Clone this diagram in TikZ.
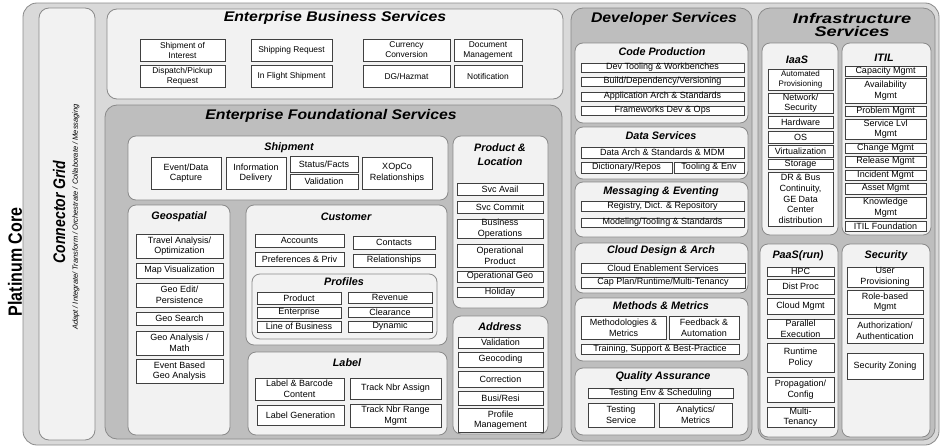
\documentclass[tikz,border=0pt]{standalone}
\usepackage{fontspec}
\setmainfont{Liberation Sans}
\definecolor{outerg}{HTML}{D9D9D9}
\definecolor{lightg}{HTML}{F2F2F2}
\definecolor{midg}{HTML}{BEBEBE}
\definecolor{edgeg}{HTML}{8A8A8A}
\definecolor{leafedge}{HTML}{404040}
\tikzset{
  leaf/.style={draw=leafedge, fill=white, line width=0.6pt, inner sep=0pt, align=center, font=\fontsize{9}{10.6}\selectfont},
  ebsleaf/.style={font=\fontsize{8.4}{10}\selectfont},
  smallleaf/.style={font=\fontsize{8}{10}\selectfont},
  cont/.style={draw=edgeg, line width=0.8pt, rounded corners=8pt, inner sep=0pt},
  bigtitle/.style={font=\fontsize{14}{12.5}\selectfont\bfseries\itshape, xscale=1.13, inner sep=0pt, align=center},
  secttitle/.style={font=\fontsize{10.8}{14}\selectfont\bfseries\itshape, inner sep=0pt, align=center},
}
\newcommand\lf[7][]{\node[leaf,minimum width={#5-#3},minimum height={#6-#4},#1] (#2) at ({(#3+#5)/2},{(#4+#6)/2}) {#7};}
\newcommand\ct[7][]{\node[cont,minimum width={#5-#3},minimum height={#6-#4},#1] (#2) at ({(#3+#5)/2},{(#4+#6)/2}) {#7};}
\begin{document}
\begin{tikzpicture}[x=1pt,y=-1pt]
\useasboundingbox (0,0) rectangle (940,447);
% outer platinum core
\ct[fill=outerg,rounded corners=14pt]{core}{23}{3}{939}{445}{}
\node[font=\fontsize{16}{16}\selectfont\bfseries, inner sep=0pt, xscale=1.2, rotate=90] (pcT) at (15,262) {Platinum Core};
% connector grid
\ct[fill=lightg,rounded corners=10pt]{cg}{39}{8}{95}{440}{}
\node[font=\fontsize{14}{14}\selectfont\bfseries\itshape, inner sep=0pt, xscale=1.2, rotate=90] (cgT) at (59,212) {Connector Grid};
\node[font=\fontsize{7.5}{7.5}\selectfont\itshape, inner sep=0pt, rotate=90] (cgS) at (76,217) {Adapt / Integrate/ Transform / Orchestrate / Collaborate / Messaging};
% enterprise business services
\ct[fill=lightg,rounded corners=10pt]{ebs}{107}{9}{563}{99}{}
\node[bigtitle] (ebsT) at (335,18) {Enterprise Business Services};
\lf[ebsleaf]{soi}{140}{39}{225}{61}{Shipment of\\Interest}
\lf[ebsleaf]{dpr}{140}{65}{225}{87}{Dispatch/Pickup\\Request}
\lf[ebsleaf]{shr}{251}{39}{332}{61}{Shipping Request}
\lf[ebsleaf]{ifs}{251}{65}{332}{87}{In Flight Shipment}
\lf[ebsleaf]{cur}{363}{39}{450}{61}{Currency\\Conversion}
\lf[ebsleaf]{dgh}{363}{65}{450}{87}{DG/Hazmat}
\lf[ebsleaf]{dmg}{454}{39}{522}{61}{Document\\Management}
\lf[ebsleaf]{ntf}{454}{65}{522}{87}{Notification}
% enterprise foundational services
\ct[fill=midg,rounded corners=12pt]{efs}{105}{105}{562}{439}{}
\node[bigtitle] (efsT) at (331,116) {Enterprise Foundational Services};
% shipment
\ct[fill=lightg]{shp}{128}{136}{448}{200}{}
\node[secttitle] (shpT) at (289,148) {Shipment};
\lf{edc}{151}{157}{221}{189}{Event/Data\\Capture}
\lf{idl}{226}{157}{286}{189}{Information\\Delivery}
\lf{stf}{290}{156}{358}{172}{Status/Facts}
\lf{svl}{290}{174}{358}{189}{Validation}
\lf{xop}{362}{157}{432}{189}{XOpCo\\Relationships}
% product & location
\ct[fill=lightg]{pl}{453}{136}{548}{308}{}
\node[secttitle] (plT) at (500,155) {Product \&\\Location};
\lf{sva}{457}{183}{543}{195}{Svc Avail}
\lf{svc}{457}{201}{543}{213}{Svc Commit}
\lf{bop}{457}{219}{543}{238}{Business\\Operations}
\lf{opp}{457}{244}{543}{267}{Operational\\Product}
\lf{opg}{457}{271}{543}{282}{Operational Geo}
\lf{hol}{457}{287}{543}{297}{Holiday}
% address
\ct[fill=lightg]{adr}{453}{316}{548}{434}{}
\node[secttitle] (adrT) at (500,327) {Address};
\lf{avl}{458}{337}{543}{348}{Validation}
\lf{gcd}{458}{352}{543}{367}{Geocoding}
\lf{cor}{458}{371}{543}{387}{Correction}
\lf{bsr}{458}{391}{543}{405}{Busi/Resi}
\lf{prm}{458}{408}{543}{432}{Profile\\Management}
% geospatial
\ct[fill=lightg]{geo}{128}{205}{230}{435}{}
\node[secttitle] (geoT) at (179,217) {Geospatial};
\lf{tao}{136}{234}{223}{258}{Travel Analysis/\\Optimization}
\lf{mpv}{136}{263}{223}{278}{Map Visualization}
\lf{ged}{136}{283}{223}{307}{Geo Edit/\\Persistence}
\lf{gse}{136}{312}{223}{325}{Geo Search}
\lf{gan}{136}{331}{223}{355}{Geo Analysis /\\Math}
\lf{ebg}{136}{359}{223}{383}{Event Based\\Geo Analysis}
% customer
\ct[fill=lightg]{cus}{246}{205}{447}{345}{}
\node[secttitle] (cusT) at (346,217) {Customer};
\lf{acc}{255}{234}{344}{247}{Accounts}
\lf{con}{353}{236}{435}{249}{Contacts}
\lf{prf}{255}{252}{344}{266}{Preferences \& Priv}
\lf{rel}{353}{254}{435}{267}{Relationships}
\ct[fill=lightg]{pro}{252}{274}{437}{339}{}
\node[secttitle] (proT) at (344,282) {Profiles};
\lf{ppr}{257}{292}{341}{304}{Product}
\lf{rev}{348}{292}{432}{303}{Revenue}
\lf{ent}{257}{307}{341}{318}{Enterprise}
\lf{clr}{348}{307}{432}{317}{Clearance}
\lf{lob}{257}{321}{341}{332}{Line of Business}
\lf{dyn}{348}{321}{432}{332}{Dynamic}
% label
\ct[fill=lightg]{lab}{248}{352}{447}{435}{}
\node[secttitle] (labT) at (347,363) {Label};
\lf{lbc}{255}{378}{344}{400}{Label \& Barcode\\Content}
\lf{tna}{350}{378}{441}{399}{Track Nbr Assign}
\lf{lgn}{257}{405}{344}{425}{Label Generation}
\lf{tnr}{350}{404}{441}{427}{Track Nbr Range\\Mgmt}
% developer services
\ct[fill=midg,rounded corners=12pt]{dev}{571}{8}{752}{441}{}
\node[bigtitle] (devT) at (664,19) {Developer Services};
\ct[fill=lightg]{cpr}{575}{43}{748}{123}{}
\node[secttitle] (cprT) at (662,52) {Code Production};
\lf{dtw}{581}{63}{744}{72}{Dev Tooling \& Workbenches}
\lf{bdv}{581}{77}{744}{86}{Build/Dependency/Versioning}
\lf{aas}{581}{92}{744}{101}{Application Arch \& Standards}
\lf{fdo}{581}{106}{744}{115}{Frameworks Dev \& Ops}
\ct[fill=lightg]{dsv}{575}{127}{748}{179}{}
\node[secttitle] (dsvT) at (661,136) {Data Services};
\lf{dam}{581}{147}{744}{158}{Data Arch \& Standards \& MDM}
\lf{dic}{581}{162}{672}{173}{Dictionary/Repos}
\lf{ten}{674}{162}{744}{173}{Tooling \& Env}
\ct[fill=lightg]{mev}{575}{182}{748}{237}{}
\node[secttitle] (mevT) at (661,192) {Messaging \& Eventing};
\lf{rdr}{581}{201}{744}{211}{Registry, Dict. \& Repository}
\lf{mts}{581}{218}{744}{227}{Modeling/Tooling \& Standards}
\ct[fill=lightg]{cda}{575}{243}{748}{293}{}
\node[secttitle] (cdaT) at (661,251) {Cloud Design \& Arch};
\lf{ces}{581}{263}{745}{273}{Cloud Enablement Services}
\lf{cpl}{581}{277}{745}{288}{Cap Plan/Runtime/Multi-Tenancy}
\ct[fill=lightg]{mem}{575}{298}{748}{361}{}
\node[secttitle] (memT) at (661,306) {Methods \& Metrics};
\lf{mmt}{581}{316}{666}{339}{Methodologies \&\\Metrics}
\lf{fba}{669}{316}{739}{339}{Feedback \&\\Automation}
\lf{tsb}{581}{344}{739}{354}{Training, Support \& Best-Practice}
\ct[fill=lightg]{qas}{575}{368}{748}{435}{}
\node[secttitle] (qasT) at (663,377) {Quality Assurance};
\lf{tes}{588}{388}{733}{398}{Testing Env \& Scheduling}
\lf{tsv}{588}{403}{654}{427}{Testing\\Service}
\lf{anm}{659}{403}{732}{427}{Analytics/\\Metrics}
% infrastructure services
\ct[fill=midg,rounded corners=12pt]{inf}{758}{8}{935}{440}{}
\node[bigtitle, xscale=1.15] (infT) at (852,25) {Infrastructure\\Services};
\ct[fill=lightg]{iaa}{762}{43}{838}{235}{}
\node[secttitle] (iaaT) at (797,60) {IaaS};
\lf[smallleaf]{apv}{768}{69}{833}{90}{Automated\\Provisioning}
\lf{nws}{768}{93}{833}{113}{Network/\\Security}
\lf{hwd}{768}{116}{833}{128}{Hardware}
\lf{osy}{768}{131}{833}{143}{OS}
\lf{vir}{768}{145}{833}{157}{Virtualization}
\lf{sto}{768}{159}{833}{169}{Storage}
\lf{drb}{768}{172}{833}{226}{DR \& Bus\\Continuity,\\GE Data\\Center\\distribution}
\ct[fill=lightg]{itl}{842}{43}{931}{235}{}
\node[secttitle] (itlT) at (884,58) {ITIL};
\lf{cap}{845}{66}{926}{76}{Capacity Mgmt}
\lf{avm}{845}{78}{926}{103}{Availability\\Mgmt}
\lf{pbm}{845}{106}{926}{116}{Problem Mgmt}
\lf{slm}{845}{119}{926}{139}{Service Lvl\\Mgmt}
\lf{chm}{845}{143}{926}{153}{Change Mgmt}
\lf{rlm}{845}{156}{926}{167}{Release Mgmt}
\lf{inm}{845}{170}{926}{180}{Incident Mgmt}
\lf{asm}{845}{183}{926}{194}{Asset Mgmt}
\lf{knm}{845}{197}{926}{218}{Knowledge\\Mgmt}
\lf{itf}{845}{221}{926}{231}{ITIL Foundation}
\ct[fill=lightg]{paa}{760}{244}{838}{437}{}
\node[secttitle] (paaT) at (798,256) {PaaS(run)};
\lf{hpc}{767}{267}{834}{276}{HPC}
\lf{dpr2}{767}{279}{834}{294}{Dist Proc}
\lf{clm}{767}{298}{834}{314}{Cloud Mgmt}
\lf{pex}{767}{319}{834}{338}{Parallel\\Execution}
\lf{rtp}{767}{343}{834}{372}{Runtime\\Policy}
\lf{ppc}{767}{377}{834}{402}{Propagation/\\Config}
\lf{mtn}{767}{407}{834}{427}{Multi-\\Tenancy}
\ct[fill=lightg]{sec}{842}{244}{930}{437}{}
\node[secttitle] (secT) at (886,256) {Security};
\lf{upv}{847}{267}{923}{287}{User\\Provisioning}
\lf{rbm}{847}{290}{923}{314}{Role-based\\Mgmt}
\lf{aut}{847}{318}{923}{343}{Authorization/\\Authentication}
\lf{szn}{847}{353}{923}{379}{Security Zoning}
\end{tikzpicture}
\end{document}
